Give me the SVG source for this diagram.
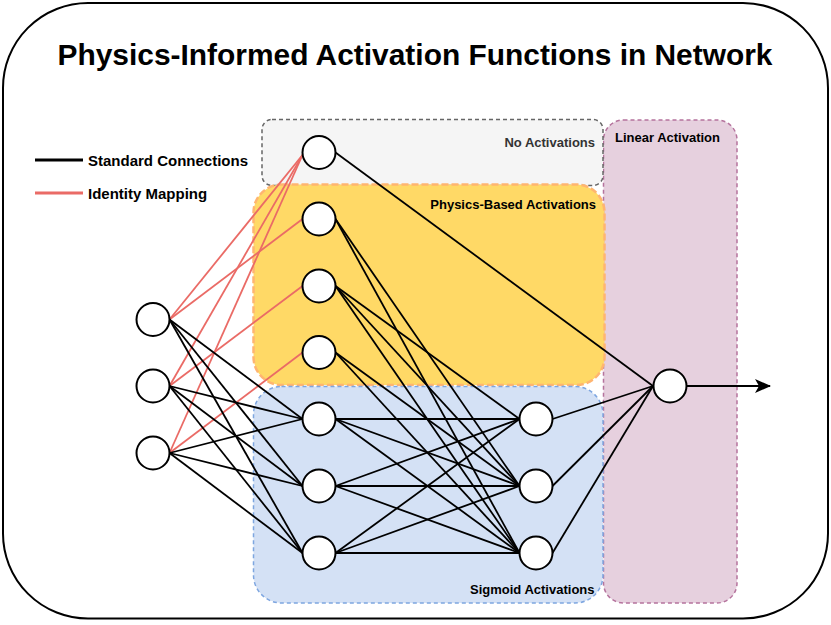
<svg xmlns="http://www.w3.org/2000/svg" width="831" height="625" viewBox="0 0 831 625">
<style>
  text { font-family: "Liberation Sans", Arial, sans-serif; font-weight: bold; }
  .lbl { font-size: 13px; }
  .leg { font-size: 15px; fill: #000; }
  .node { fill: #ffffff; stroke: #000000; stroke-width: 2; }
  .std { stroke: #000000; stroke-width: 1.8; fill: none; }
  .idm { stroke: #EA6B66; stroke-width: 1.8; fill: none; }
</style>
<defs>
  <marker id="arrow" markerWidth="16" markerHeight="14" refX="15" refY="7" orient="auto" markerUnits="userSpaceOnUse">
    <path d="M0,0 L16,7 L0,14 L4,7 Z" fill="#000"/>
  </marker>
</defs>
<rect x="0" y="0" width="831" height="625" fill="#ffffff"/>
<rect id="frame" x="3" y="3" width="825" height="615.5" rx="85" ry="85" fill="#ffffff" stroke="#000" stroke-width="2"/>
<text x="415" y="65" font-size="30" text-anchor="middle" textLength="715" lengthAdjust="spacingAndGlyphs">Physics-Informed Activation Functions in Network</text>

<g id="legend">
  <line x1="35" y1="160" x2="83" y2="160" stroke="#000" stroke-width="3"/>
  <text class="leg" x="88" y="165.5">Standard Connections</text>
  <line x1="35" y1="193" x2="83" y2="193" stroke="#EA6B66" stroke-width="3"/>
  <text class="leg" x="88" y="198.5">Identity Mapping</text>
</g>

<g id="group-linear">
  <rect x="603.5" y="120" width="133.5" height="483" rx="20" ry="20" fill="#E6D0DE" stroke="#B5739D" stroke-width="1.5" stroke-dasharray="4 3"/>
  <text class="lbl" x="615" y="141.5" fill="#000">Linear Activation</text>
</g>
<g id="group-none">
  <rect x="262" y="119.5" width="341" height="66" rx="10" ry="10" fill="#F5F5F5" stroke="#666666" stroke-width="1.5" stroke-dasharray="4 3"/>
  <text class="lbl" x="595" y="147" fill="#333333" text-anchor="end">No Activations</text>
</g>
<g id="group-physics">
  <rect x="253.5" y="184.5" width="351" height="200.5" rx="28" ry="28" fill="#FFD966" stroke="#FFB570" stroke-width="2.5" stroke-dasharray="7 3"/>
  <text class="lbl" x="596" y="208.5" fill="#000" text-anchor="end">Physics-Based Activations</text>
</g>
<g id="group-sigmoid">
  <rect x="253.5" y="386.5" width="349.5" height="216.5" rx="28" ry="28" fill="#D4E1F5" stroke="#7EA6E0" stroke-width="1.5" stroke-dasharray="4 3"/>
  <text class="lbl" x="594.5" y="593.5" fill="#000" text-anchor="end">Sigmoid Activations</text>
</g>

<g id="connectors">
  <!-- identity mapping -->
  <line class="idm" x1="169.5" y1="319.5" x2="302.5" y2="155"/>
  <line class="idm" x1="169.5" y1="386" x2="302.5" y2="155"/>
  <line class="idm" x1="169.5" y1="453" x2="302.5" y2="155"/>
  <line class="idm" x1="169.5" y1="319.5" x2="302.5" y2="219"/>
  <line class="idm" x1="169.5" y1="386" x2="302.5" y2="286"/>
  <line class="idm" x1="169.5" y1="453" x2="302.5" y2="352.5"/>
  <!-- inputs to sigmoid layer -->
  <line class="std" x1="169.5" y1="319.5" x2="302.5" y2="419"/>
  <line class="std" x1="169.5" y1="319.5" x2="302.5" y2="486"/>
  <line class="std" x1="169.5" y1="319.5" x2="302.5" y2="553"/>
  <line class="std" x1="169.5" y1="386" x2="302.5" y2="419"/>
  <line class="std" x1="169.5" y1="386" x2="302.5" y2="486"/>
  <line class="std" x1="169.5" y1="386" x2="302.5" y2="553"/>
  <line class="std" x1="169.5" y1="453" x2="302.5" y2="419"/>
  <line class="std" x1="169.5" y1="453" x2="302.5" y2="486"/>
  <line class="std" x1="169.5" y1="453" x2="302.5" y2="553"/>
  <!-- physics layer to second layer -->
  <line class="std" x1="335.5" y1="219" x2="519.5" y2="486"/>
  <line class="std" x1="335.5" y1="219" x2="519.5" y2="553"/>
  <line class="std" x1="335.5" y1="286" x2="519.5" y2="419"/>
  <line class="std" x1="335.5" y1="286" x2="519.5" y2="486"/>
  <line class="std" x1="335.5" y1="286" x2="519.5" y2="553"/>
  <line class="std" x1="335.5" y1="352.5" x2="519.5" y2="486"/>
  <line class="std" x1="335.5" y1="352.5" x2="519.5" y2="553"/>
  <!-- sigmoid layer to second layer -->
  <line class="std" x1="335.5" y1="419" x2="519.5" y2="419"/>
  <line class="std" x1="335.5" y1="419" x2="519.5" y2="486"/>
  <line class="std" x1="335.5" y1="419" x2="519.5" y2="553"/>
  <line class="std" x1="335.5" y1="486" x2="519.5" y2="419"/>
  <line class="std" x1="335.5" y1="486" x2="519.5" y2="486"/>
  <line class="std" x1="335.5" y1="486" x2="519.5" y2="553"/>
  <line class="std" x1="335.5" y1="553" x2="519.5" y2="419"/>
  <line class="std" x1="335.5" y1="553" x2="519.5" y2="486"/>
  <line class="std" x1="335.5" y1="553" x2="519.5" y2="553"/>
  <!-- to output -->
  <line class="std" x1="335.5" y1="152.5" x2="653" y2="386"/>
  <line class="std" x1="552.5" y1="419" x2="653" y2="386"/>
  <line class="std" x1="552.5" y1="486" x2="653" y2="386"/>
  <line class="std" x1="552.5" y1="553" x2="653" y2="386"/>
  <line class="std" x1="686.5" y1="386" x2="770" y2="386" marker-end="url(#arrow)"/>
</g>

<g id="in1"><circle class="node" cx="153" cy="319.5" r="16.5"/></g>
<g id="in2"><circle class="node" cx="153" cy="386" r="16.5"/></g>
<g id="in3"><circle class="node" cx="153" cy="453" r="16.5"/></g>
<g id="h0"><circle class="node" cx="319" cy="152.5" r="16.5"/></g>
<g id="h1"><circle class="node" cx="319" cy="219" r="16.5"/></g>
<g id="h2"><circle class="node" cx="319" cy="286" r="16.5"/></g>
<g id="h3"><circle class="node" cx="319" cy="352.5" r="16.5"/></g>
<g id="h4"><circle class="node" cx="319" cy="419" r="16.5"/></g>
<g id="h5"><circle class="node" cx="319" cy="486" r="16.5"/></g>
<g id="h6"><circle class="node" cx="319" cy="553" r="16.5"/></g>
<g id="s1"><circle class="node" cx="536" cy="419" r="16.5"/></g>
<g id="s2"><circle class="node" cx="536" cy="486" r="16.5"/></g>
<g id="s3"><circle class="node" cx="536" cy="553" r="16.5"/></g>
<g id="out"><circle class="node" cx="670" cy="386" r="16.5"/></g>
</svg>
